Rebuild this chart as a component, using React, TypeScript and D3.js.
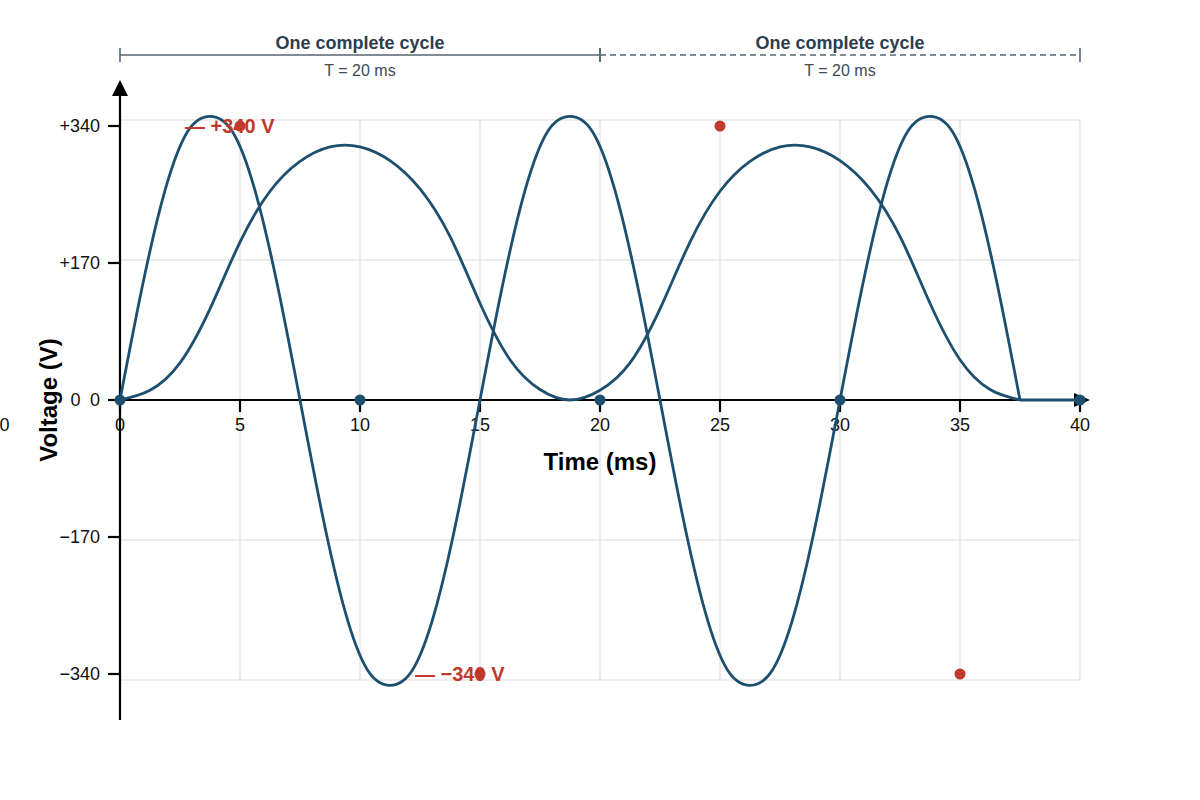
import React from 'react';
import * as d3 from 'd3';

const WIDTH = 1200;
const HEIGHT = 800;
const FONT = '"Liberation Sans", Arial, Helvetica, sans-serif';
const BLUE = '#1d4f6f';
const RED = '#c0392b';
const INK = '#2c3e50';

// axis ticks
const xTicks = [0, 5, 10, 15, 20, 25, 30, 35, 40];
const yTicks = [340, 170, 0, -170, -340];
const yTickLabels = ['+340', '+170', '0', '−170', '−340'];
// the grid sits on its own, slightly wider scale than the ticks
const gridLevels = [350, 175, 0, -175, -350];

// fast wave (ms, V)
const waveTime = [
  0, 0.9375, 1.875, 2.8125, 3.75, 4.6875, 5.625, 6.5625,
  7.5, 8.4375, 9.375, 10.3125, 11.25, 12.1875, 13.125, 14.0625,
  15, 15.9375, 16.875, 17.8125, 18.75, 19.6875, 20.625, 21.5625,
  22.5, 23.4375, 24.375, 25.3125, 26.25, 27.1875, 28.125, 29.0625,
  30, 30.9375, 31.875, 32.8125, 33.75, 34.6875, 35.625, 36.5625,
  37.5,
];
const waveVolt = [
  0, 142, 260, 333, 352, 333, 260, 142,
  0, -143, -262, -335, -354, -335, -262, -143,
  0, 142, 260, 333, 352, 333, 260, 142,
  0, -143, -262, -335, -354, -335, -262, -143,
  0, 142, 260, 333, 352, 333, 260, 142,
  0,
];
// both curves run flat along the axis after 37.5 ms
const tailTime = [37.5, 40];
const tailVolt = [0, 0];

// slow hump curve
const humpTime = [
  0, 1.25, 2.5, 3.75, 5, 6.25, 7.5, 8.75, 10, 11.25, 12.5, 13.75, 15, 16.25, 17.5,
  18.75, 20, 21.25, 22.5, 23.75, 25, 26.25, 27.5, 28.75, 30, 31.25, 32.5, 33.75, 35, 36.25,
  37.5,
];
const humpVolt = [
  0, 12, 46, 113, 196, 259, 296, 314, 314, 297, 262, 203, 120, 50, 13,
  0, 12, 46, 113, 196, 259, 296, 314, 314, 297, 262, 203, 120, 50, 13,
  0,
];

// markers
const zeroTimes = [0, 10, 20, 30, 40];
const peakTimes = [5, 15, 25, 35];
const peakVolts = [340, -340, 340, -340];

// cycle brackets
const cycleStart = [0, 20];
const cycleEnd = [20, 40];
const cycleDashed = [false, true];

const App: React.FC = () => {
  const x = d3.scaleLinear().domain([0, 40]).range([120, 1080]);
  const y = d3.scaleLinear().domain([-340, 340]).range([674, 126]);
  const gy = d3.scaleLinear().domain([-350, 350]).range([680, 120]);

  const wavePath = d3.line<number>()
    .x((_, i) => x(waveTime[i]))
    .y(v => y(v))
    .curve(d3.curveNatural)(waveVolt) || '';
  const humpPath = d3.line<number>()
    .x((_, i) => x(humpTime[i]))
    .y(v => y(v))
    .curve(d3.curveNatural)(humpVolt) || '';
  const tailPath = d3.line<number>()
    .x((_, i) => x(tailTime[i]))
    .y(v => y(v))(tailVolt) || '';

  const y0 = y(0);
  const xl = x(0);

  return (
    <svg
      width={WIDTH}
      height={HEIGHT}
      viewBox={`0 0 ${WIDTH} ${HEIGHT}`}
      style={{ position: 'absolute', left: 0, top: 0, background: '#fff' }}
      fontFamily={FONT}
    >
      {/* grid */}
      <g stroke="#e6e6e6" strokeWidth={1.5}>
        {gridLevels.map(v => (
          <line key={`h${v}`} x1={x(0)} x2={x(40)} y1={gy(v)} y2={gy(v)} />
        ))}
        {xTicks.filter(t => t > 0).map(t => (
          <line key={`v${t}`} x1={x(t)} x2={x(t)} y1={gy(350)} y2={gy(-350)} />
        ))}
      </g>

      {/* cycle brackets */}
      {cycleStart.map((s, i) => {
        const a = x(s);
        const b = x(cycleEnd[i]);
        const mid = (a + b) / 2;
        return (
          <g key={`c${i}`}>
            <line x1={a} x2={b} y1={55} y2={55} stroke="#566573" strokeWidth={1.6}
              strokeDasharray={cycleDashed[i] ? '6,4' : undefined} />
            <line x1={a} x2={a} y1={48} y2={62} stroke="#566573" strokeWidth={1.6} />
            <line x1={b} x2={b} y1={48} y2={62} stroke="#566573" strokeWidth={1.6} />
            <text x={mid} y={48.5} textAnchor="middle" fontSize={18} fontWeight="bold" fill={INK}>
              One complete cycle
            </text>
            <text x={mid} y={75.5} textAnchor="middle" fontSize={16} fill="#3d4a57">
              T = 20 ms
            </text>
          </g>
        );
      })}

      {/* axes */}
      <g stroke="#000" strokeWidth={2.2}>
        <line x1={xl} x2={xl} y1={94} y2={720} />
        <line x1={xl} x2={1076} y1={y0} y2={y0} />
        {yTicks.map(v => (
          <line key={`yt${v}`} x1={xl - 12} x2={xl} y1={y(v)} y2={y(v)} />
        ))}
        {xTicks.map(t => (
          <line key={`xt${t}`} x1={x(t)} x2={x(t)} y1={y0} y2={y0 + 12} />
        ))}
      </g>
      <polygon points={`${xl},80 ${xl - 8},96 ${xl + 8},96`} fill="#000" />
      <polygon points={`1090,${y0} 1074,${y0 - 7} 1074,${y0 + 7}`} fill="#000" />

      {/* tick labels */}
      <g fontSize={18} fill="#111">
        {yTicks.map((v, i) => (
          <text key={`yl${v}`} x={100} y={y(v)} dy="0.35em" textAnchor="end">{yTickLabels[i]}</text>
        ))}
        {xTicks.map(t => (
          <text key={`xl${t}`} x={x(t)} y={y0 + 25} dy="0.35em" textAnchor="middle">{t}</text>
        ))}
        <text x={80.5} y={y0} dy="0.35em" textAnchor="end">0</text>
        <text x={-0.5} y={y0 + 25} dy="0.35em" textAnchor="start">0</text>
      </g>

      {/* axis titles */}
      <text x={600} y={470} textAnchor="middle" fontSize={24} fontWeight="bold" fill="#000">Time (ms)</text>
      <text transform={`translate(57, ${y0}) rotate(-90)`} textAnchor="middle" fontSize={24} fontWeight="bold" fill="#000">
        Voltage (V)
      </text>

      {/* curves */}
      <g fill="none" stroke={BLUE} strokeWidth={2.8} strokeLinejoin="round">
        <path d={humpPath} />
        <path d={wavePath} />
        <path d={tailPath} />
      </g>

      {/* zero-crossing markers */}
      {zeroTimes.map(t => (
        <circle key={`z${t}`} cx={x(t)} cy={y(0)} r={5.5} fill={BLUE} />
      ))}

      {/* peak labels */}
      <text x={185} y={y(340)} dy="0.35em" fontSize={20} fontWeight="bold" fill={RED}>— +340 V</text>
      <text x={415} y={y(-340)} dy="0.35em" fontSize={20} fontWeight="bold" fill={RED}>— −340 V</text>

      {/* peak markers */}
      {peakTimes.map((t, i) => (
        <circle key={`p${t}`} cx={x(t)} cy={y(peakVolts[i])} r={5.5} fill={RED} />
      ))}
    </svg>
  );
};

export default App;
